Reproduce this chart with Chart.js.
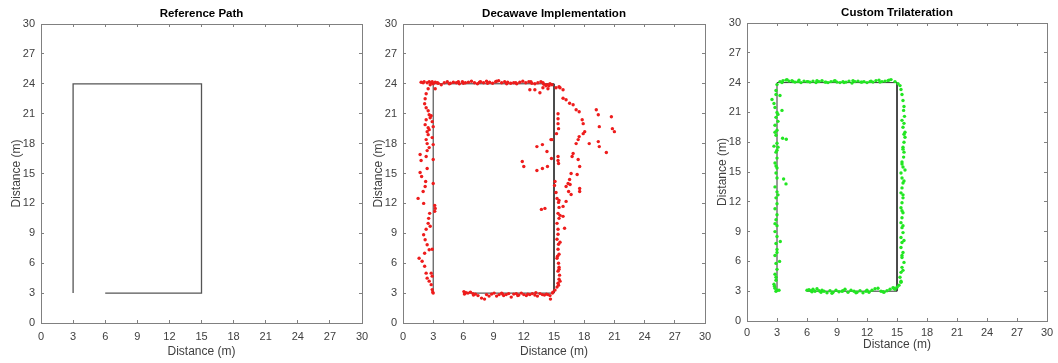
<!DOCTYPE html>
<html>
<head>
<meta charset="utf-8">
<script src="https://cdn.jsdelivr.net/npm/chart.js@4.4.0/dist/chart.umd.min.js"></script>
<style>
  html, body { margin: 0; background: #fff; overflow: hidden; }
  .panel { position: absolute; top: 0; }
</style>
</head>
<body>
<div class="panel" style="left:0px"><canvas id="c1" width="386" height="363"></canvas></div>
<div class="panel" style="left:362px"><canvas id="c2" width="367" height="363"></canvas></div>
<div class="panel" style="left:706px"><canvas id="c3" width="365" height="363"></canvas></div>
<script>
// axis ticks (same on both axes, all three panels)
const tickVals = [0, 3, 6, 9, 12, 15, 18, 21, 24, 27, 30];
const titles = ['Reference Path', 'Decawave Implementation', 'Custom Trilateration'];
const axisLabel = 'Distance (m)';

// reference path corners
const refX = [3, 3, 15, 15, 6];
const refY = [3, 24, 24, 3, 3];

// decawave estimates
const decaX = [
  1.8, 2.1, 2.4, 2.6, 2.8, 3.0, 3.2, 3.5, 3.8, 4.1, 4.4, 4.7, 5.0, 5.3, 5.6, 5.9, 6.2, 6.5, 6.8, 7.1,
  7.4, 7.7, 8.0, 8.3, 8.6, 8.9, 9.2, 9.5, 9.8, 10.1, 10.4, 10.7, 11.0, 11.3, 11.6, 11.9, 12.2, 12.5, 12.8, 13.1,
  13.4, 13.7, 14.0, 14.3, 14.5,
  2.0, 2.9, 3.4, 4.6, 5.5, 6.0, 7.6, 8.4, 9.3, 10.3, 11.2, 12.7, 13.9,
  2.7, 2.5, 2.3, 2.2, 2.15, 2.3, 2.5, 2.6, 2.3, 2.7, 2.9, 2.2, 2.5, 3.0, 2.4, 2.5, 2.3, 2.4, 2.6, 3.0,
  1.7, 1.8, 2.3, 3.0, 2.4, 1.7, 1.85, 2.25, 3.0, 2.2, 2.0, 1.5, 2.05, 3.15, 3.2, 3.15, 2.65, 2.55, 2.5, 2.3,
  2.05, 2.2, 2.4, 2.6, 2.9, 2.15, 1.6, 1.9, 2.15, 2.3, 2.8, 2.9, 2.4, 2.6, 2.8, 2.9, 2.95, 3.0, 3.2,
  2.8, 2.6, 2.9, 2.4, 2.7,
  12.6, 13.1, 13.6, 13.9, 14.2, 14.4, 14.6, 14.8,
  15.2, 15.5, 15.4, 15.4, 15.4, 15.45, 15.25, 14.8, 15.4, 15.4, 15.45, 15.1, 15.05, 15.2, 15.3, 15.45, 15.5, 15.4, 15.5, 15.3,
  15.4, 15.4, 15.3, 15.45, 15.4, 15.5, 15.3, 15.45, 15.5, 15.4, 15.55, 15.5, 15.4, 15.3, 15.1, 14.9, 15.6, 15.5,
  15.6, 15.35, 15.5, 15.6, 15.45,
  15.9, 15.6, 15.9, 16.2, 16.55, 16.9, 17.2, 17.5, 17.8, 17.9, 18.05, 17.9, 17.5, 17.4, 17.2, 16.9, 16.8, 17.4, 17.55, 17.3,
  16.7, 16.55, 16.4, 16.6, 16.2, 16.45, 16.7, 17.55, 17.55, 16.2, 15.9, 15.9, 16.05, 18.5, 19.2, 19.4, 19.5, 19.4, 19.5, 20.2,
  20.7, 20.8, 21.0,
  11.85, 12.0, 13.3, 13.85, 14.3, 14.7, 13.3, 13.85, 14.35, 13.75, 14.1, 14.75,
  6.05, 6.1, 6.25, 6.45, 6.7, 6.95, 7.2, 7.45, 7.8, 8.1, 8.3, 8.55, 8.8, 9.05, 9.3, 9.55, 9.8, 10.0, 10.25, 10.5,
  10.75, 11.0, 11.25, 11.5, 11.75, 12.0, 12.25, 12.6, 12.85, 13.1, 13.35, 13.6, 13.85, 14.05, 14.25, 14.4, 14.65, 14.85,
  6.2, 7.0, 9.9, 11.4, 12.4, 13.2, 14.6
];
const decaY = [
  24.15, 24.2, 24.1, 24.2, 24.1, 24.0, 24.15, 24.05, 23.9, 24.1, 24.2, 24.05, 24.15, 24.1, 24.0, 24.2, 24.1, 24.15, 24.25, 24.1,
  24.0, 24.2, 24.1, 24.25, 24.15, 24.05, 24.2, 24.3, 24.1, 24.2, 24.15, 24.05, 24.1, 24.0, 24.15, 24.25, 24.1, 24.2, 24.05, 24.0,
  24.1, 24.2, 23.95, 23.9, 23.8,
  24.1, 24.2, 24.1, 24.0, 24.2, 24.05, 24.15, 24.05, 24.25, 24.0, 24.1, 24.2, 24.1,
  23.9, 23.5, 23.0, 22.5, 22.0, 21.6, 21.3, 20.9, 20.4, 20.6, 20.2, 19.9, 19.6, 19.7, 19.2, 18.9, 18.4, 18.0, 17.6, 17.9,
  16.9, 16.3, 16.7, 16.4, 15.5, 15.1, 14.7, 14.2, 14.0, 13.7, 13.2, 12.5, 12.0, 11.8, 11.5, 11.2, 11.0, 10.5, 10.0, 9.4,
  8.85, 8.35, 7.85, 7.35, 7.4, 7.0, 6.5, 6.2, 5.7, 5.0, 5.0, 4.7, 4.5, 4.2, 3.85, 3.35, 3.1, 3.0, 23.5,
  20.8, 19.4, 18.6, 17.3, 9.7,
  23.4, 23.4, 23.1, 23.6, 23.8, 23.5, 24.0, 23.9,
  23.6, 23.7, 21.0, 20.5, 20.0, 19.5, 19.0, 18.4, 16.7, 16.3, 16.0, 14.2, 13.8, 13.1, 12.5, 12.1, 11.6, 11.0, 10.5, 10.0,
  9.4, 8.9, 8.4, 7.9, 7.4, 6.9, 6.5, 6.0, 5.6, 5.2, 4.8, 4.4, 4.0, 3.6, 3.3, 3.1, 10.8, 12.3,
  8.1, 6.7, 5.4, 4.2, 3.8,
  23.4, 23.6, 22.55, 22.4, 22.05, 21.9, 21.4, 21.2, 20.4, 20.0, 19.2, 19.0, 18.7, 18.4, 18.0, 17.0, 16.7, 16.4, 15.7, 14.9,
  15.0, 14.4, 14.0, 13.9, 13.7, 13.2, 12.9, 13.5, 13.2, 12.2, 11.7, 10.7, 9.5, 18.0, 21.4, 20.9, 19.7, 18.2, 17.7, 17.1,
  20.7, 19.5, 19.2,
  16.2, 15.7, 17.7, 17.9, 17.2, 18.4, 15.3, 15.5, 15.7, 11.4, 11.5, 16.5,
  3.15, 2.9, 3.05, 3.0, 3.1, 2.95, 2.9, 2.75, 2.5, 2.4, 2.85, 2.7, 2.9, 3.0, 2.7, 2.85, 3.0, 2.75, 2.85, 2.95,
  2.6, 2.9, 2.95, 2.8, 3.0, 2.85, 2.75, 2.85, 2.95, 2.8, 2.7, 2.95, 2.85, 2.8, 2.9, 2.85, 2.4, 3.0,
  3.0, 2.8, 2.9, 2.75, 2.9, 3.05, 2.75
];

// custom trilateration estimates
const trilX = [
  3.0, 2.9, 2.5, 2.7, 3.3, 2.8, 3.0, 3.5, 2.9, 3.1, 2.8, 3.0, 2.9, 3.56, 3.93, 3.0, 2.7, 3.1, 2.9, 3.0,
  2.8, 3.0, 2.9, 3.66, 3.0, 3.9, 2.8, 3.0, 2.9, 3.0, 2.8, 3.0, 2.9, 3.0, 2.8, 3.0, 3.33, 2.9, 3.0, 2.8,
  3.26, 2.9, 3.0, 2.8, 2.9, 2.7, 2.8, 3.0, 3.2, 2.9,
  2.9, 3.1, 2.8, 3.0, 2.9, 3.1, 2.8, 3.0, 2.9, 2.75,
  3.3, 3.6, 3.9, 4.2, 4.5, 4.8, 5.1, 5.4, 5.7, 6.0, 6.3, 6.6, 6.9, 7.2, 7.5, 7.8, 8.1, 8.4, 8.7, 9.0,
  9.3, 9.6, 9.9, 10.2, 10.5, 10.8, 11.1, 11.4, 11.7, 12.0, 12.3, 12.6, 12.9, 13.2, 13.5, 13.8, 14.1, 14.4,
  3.5, 4.0, 4.6, 5.2, 6.1, 7.0, 7.9, 8.8, 9.7, 10.6, 11.5, 12.4, 13.3, 14.2,
  14.8, 15.1, 15.3, 15.4, 15.5, 15.6, 15.7, 15.66, 15.75, 15.7, 15.6, 15.8, 15.8, 15.7, 15.6, 15.7, 15.66, 15.5, 15.6, 15.8,
  15.4, 15.5, 15.6, 15.5, 15.4, 15.6, 15.5, 15.4, 15.6, 15.5, 15.4, 15.5, 15.6, 15.4, 15.5, 15.4, 15.6, 15.5, 15.7, 15.5,
  15.4, 15.3, 15.4, 15.2, 15.0, 14.7,
  15.5, 15.7, 15.6, 15.5, 15.7, 15.6, 15.5, 15.6, 15.7, 15.5, 15.6, 15.4,
  6.0, 6.2, 6.4, 6.6, 6.8, 7.0, 7.2, 7.4, 7.7, 8.0, 8.3, 8.6, 8.9, 9.2, 9.5, 9.8, 10.1, 10.4, 10.7, 11.0,
  11.3, 11.6, 11.9, 12.2, 12.5, 12.8, 13.1, 13.4, 13.7, 14.0, 14.3, 14.6,
  6.5, 7.5, 8.5, 9.6, 10.9, 12.0, 13.6, 14.8
];
const trilY = [
  23.8, 23.2, 22.3, 21.9, 22.7, 21.5, 21.0, 21.2, 20.5, 20.1, 19.7, 19.2, 18.7, 18.4, 18.3, 17.9, 17.6, 17.5, 17.0, 16.4,
  15.9, 15.4, 14.9, 14.3, 14.4, 13.8, 13.5, 13.0, 12.4, 11.8, 11.3, 10.7, 10.2, 9.6, 9.0, 8.5, 8.0, 7.8, 7.2, 6.6,
  6.0, 5.8, 5.2, 4.7, 4.1, 3.7, 3.3, 3.1, 3.1, 3.0,
  22.8, 20.8, 19.0, 17.2, 15.6, 12.7, 9.8, 6.9, 4.4, 3.5,
  24.1, 24.2, 24.25, 24.15, 24.2, 24.05, 24.1, 24.0, 24.15, 24.1, 24.05, 24.15, 24.0, 24.1, 24.2, 24.05, 24.0, 24.1, 24.15, 24.05,
  24.0, 24.1, 24.05, 24.15, 23.95, 24.1, 24.15, 24.05, 24.1, 24.0, 24.1, 24.05, 24.2, 24.25, 24.1, 24.15, 24.2, 24.3,
  24.0, 24.3, 24.1, 24.25, 24.1, 24.2, 24.05, 24.2, 24.0, 24.2, 24.05, 24.15, 24.05, 24.25,
  24.1, 23.9, 23.7, 23.3, 22.8, 22.2, 21.6, 21.2, 20.6, 19.9, 19.5, 19.0, 18.5, 18.0, 17.5, 17.0, 16.5, 16.0, 15.5, 15.2,
  14.9, 14.4, 13.9, 13.4, 12.9, 12.4, 11.9, 11.4, 10.9, 10.4, 9.9, 9.4, 8.9, 8.4, 7.9, 7.4, 6.9, 6.4, 5.9, 5.4,
  4.9, 4.4, 4.0, 3.6, 3.4, 3.3,
  20.2, 18.8, 17.3, 15.8, 14.1, 12.7, 11.1, 9.6, 8.1, 6.6, 5.1, 3.9,
  3.1, 3.15, 3.05, 3.2, 3.0, 3.25, 3.05, 2.9, 3.0, 2.85, 3.05, 2.9, 3.1, 2.95, 3.0, 3.2, 2.9, 3.1, 3.0, 2.9,
  3.05, 2.85, 3.0, 2.9, 3.1, 3.25, 3.3, 3.0, 2.9, 3.05, 3.2, 3.35,
  2.95, 3.1, 2.8, 3.05, 2.85, 3.1, 2.95, 3.2
];

const toPts = (xs, ys) => xs.map((x, i) => ({ x: x, y: ys[i] }));

const axisGray = '#808080';
const textGray = '#404040';
const fontFam = "'Liberation Sans', Arial, sans-serif";

function makeChart(id, title, datasets, lay) {
  const fixTicks = (s) => { s.ticks = tickVals.map((v) => ({ value: v })); };
  const grid = { drawOnChartArea: false, drawTicks: true, tickLength: -3, color: axisGray, lineWidth: 1 };
  const border = { display: true, color: axisGray, width: 1 };
  new Chart(document.getElementById(id), {
    type: 'scatter',
    data: { datasets: datasets },
    options: {
      responsive: false,
      animation: false,
      layout: { padding: 0 },
      plugins: {
        legend: { display: false },
        tooltip: { enabled: false },
        title: {
          display: true,
          text: title,
          fullSize: false,
          color: '#000',
          font: { family: fontFam, size: 11.5, weight: 'bold', lineHeight: 1.2 },
          padding: { top: lay.titleTop, bottom: lay.titleBottom },
        },
      },
      scales: {
        x: {
          type: 'linear', position: 'bottom', min: 0, max: 30,
          afterBuildTicks: fixTicks,
          afterFit: (s) => { s.height = lay.xh; },
          grid: grid, border: border,
          ticks: { color: textGray, padding: lay.xPad, maxRotation: 0, font: { family: fontFam, size: 11 } },
          title: {
            display: true, text: axisLabel, color: textGray,
            font: { family: fontFam, size: 12 },
            padding: { top: 0, bottom: lay.xTitlePad },
          },
        },
        y: {
          type: 'linear', position: 'left', min: 0, max: 30,
          afterBuildTicks: fixTicks,
          afterFit: (s) => { s.width = 41; },
          grid: grid, border: border,
          ticks: { color: textGray, padding: 9, font: { family: fontFam, size: 11 } },
          title: {
            display: true, text: axisLabel, color: textGray,
            font: { family: fontFam, size: 12 },
            padding: { top: 9, bottom: 0 },
          },
        },
        x2: {
          type: 'linear', position: 'top', min: 0, max: 30,
          afterBuildTicks: fixTicks,
          afterFit: (s) => { s.height = 0; },
          grid: grid, border: border,
          ticks: { display: false },
        },
        y2: {
          type: 'linear', position: 'right', min: 0, max: 30,
          afterBuildTicks: fixTicks,
          afterFit: (s) => { s.width = 24; },
          grid: grid, border: border,
          ticks: { display: false },
        },
      },
    },
  });
}

const pathSet = (col, w) => ({
  data: toPts(refX, refY),
  showLine: true,
  borderColor: col,
  borderWidth: w,
  pointRadius: 0,
  order: 2,
});

const dotSet = (xs, ys, col) => ({
  data: toPts(xs, ys),
  showLine: false,
  backgroundColor: col,
  borderWidth: 0,
  pointRadius: 1.7,
  order: 1,
});

const layA = { titleTop: 7, titleBottom: 3.2, xh: 40, xPad: 10, xTitlePad: 4 };
const layC = { titleTop: 6, titleBottom: 3.2, xh: 42, xPad: 8.7, xTitlePad: 10.8 };

makeChart('c1', titles[0], [pathSet('#555555', 1.3)], layA);
makeChart('c2', titles[1], [pathSet('#333333', 1), dotSet(decaX, decaY, '#ee1c1c')], layA);
makeChart('c3', titles[2], [pathSet('#333333', 1), dotSet(trilX, trilY, '#22e622')], layC);
</script>
</body>
</html>
